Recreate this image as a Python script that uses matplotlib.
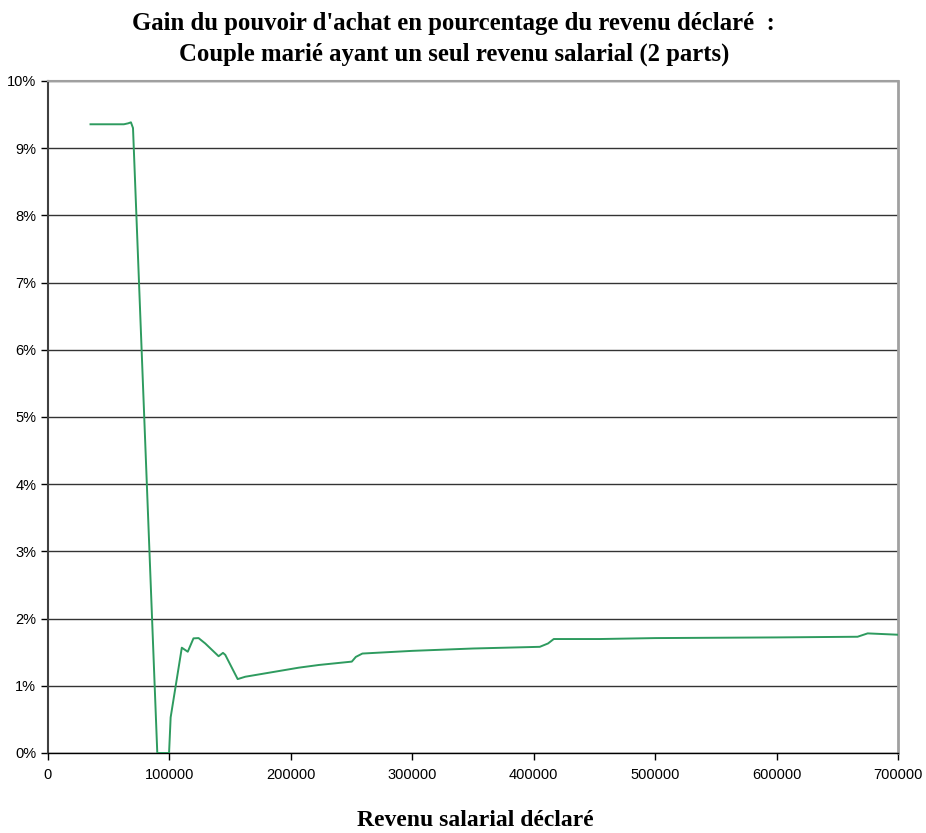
import numpy as np
import matplotlib.pyplot as plt
from matplotlib.ticker import FuncFormatter

# revenu salarial déclaré
revenu = [35000, 62500, 66000, 68300, 70000, 90000, 99700, 101000, 110200, 115100,
          119800, 124000, 129500, 140500, 144100, 146000, 156200, 162500, 206600,
          223100, 250200, 253500, 258900, 300000, 350000, 405000, 411800, 416500,
          454500, 500000, 600000, 666700, 675000, 700000]
# gain en % du revenu déclaré
gain = [9.356, 9.356, 9.37, 9.385, 9.30, 0.0, 0.0, 0.53, 1.567, 1.507,
        1.706, 1.71, 1.63, 1.44, 1.49, 1.46, 1.10, 1.135, 1.27,
        1.31, 1.36, 1.43, 1.48, 1.52, 1.555, 1.58, 1.63, 1.696,
        1.696, 1.71, 1.72, 1.73, 1.78, 1.76]

xticks = np.arange(0, 700001, 100000)
yticks = np.arange(0, 11, 1)

fig = plt.figure(figsize=(9.26, 8.33), dpi=100)
ax = fig.add_axes([48/926, 1-753/833, 850/926, (753-81)/833])

ax.plot(revenu, gain, color="#2e9b5f", linewidth=1.4, zorder=3)

ax.set_xlim(0, 700000)
ax.set_ylim(0, 10)
ax.set_xticks(xticks)
ax.set_yticks(yticks)
ax.xaxis.set_major_formatter(FuncFormatter(lambda v, p: "%d" % v))
ax.yaxis.set_major_formatter(FuncFormatter(lambda v, p: "%d%%" % v))
ax.tick_params(axis="both", direction="out", length=5, width=1, colors="black",
               labelsize=10.5)
for lab in ax.get_xticklabels() + ax.get_yticklabels():
    lab.set_fontfamily("Liberation Sans")
ax.tick_params(axis="x", pad=6)

ax.yaxis.grid(True, color="#333333", linewidth=1)
ax.set_axisbelow(True)

ax.spines["top"].set_color("#a0a0a0")
ax.spines["top"].set_linewidth(1.5)
ax.spines["right"].set_color("#a0a0a0")
ax.spines["right"].set_linewidth(2)
ax.spines["left"].set_color("#404040")
ax.spines["left"].set_linewidth(1.5)
ax.spines["bottom"].set_color("black")
ax.spines["bottom"].set_linewidth(1)

fig.text(0.49, 0.986, "Gain du pouvoir d'achat en pourcentage du revenu déclaré  :\n"
         "Couple marié ayant un seul revenu salarial (2 parts)",
         ha="center", va="top", fontsize=17.8, fontweight="bold",
         family="Liberation Serif", linespacing=1.45)
fig.text(0.513, 0.002, "Revenu salarial déclaré", ha="center", va="bottom",
         fontsize=17, fontweight="bold", family="Liberation Serif")

fig.savefig("out.png", dpi=100)
